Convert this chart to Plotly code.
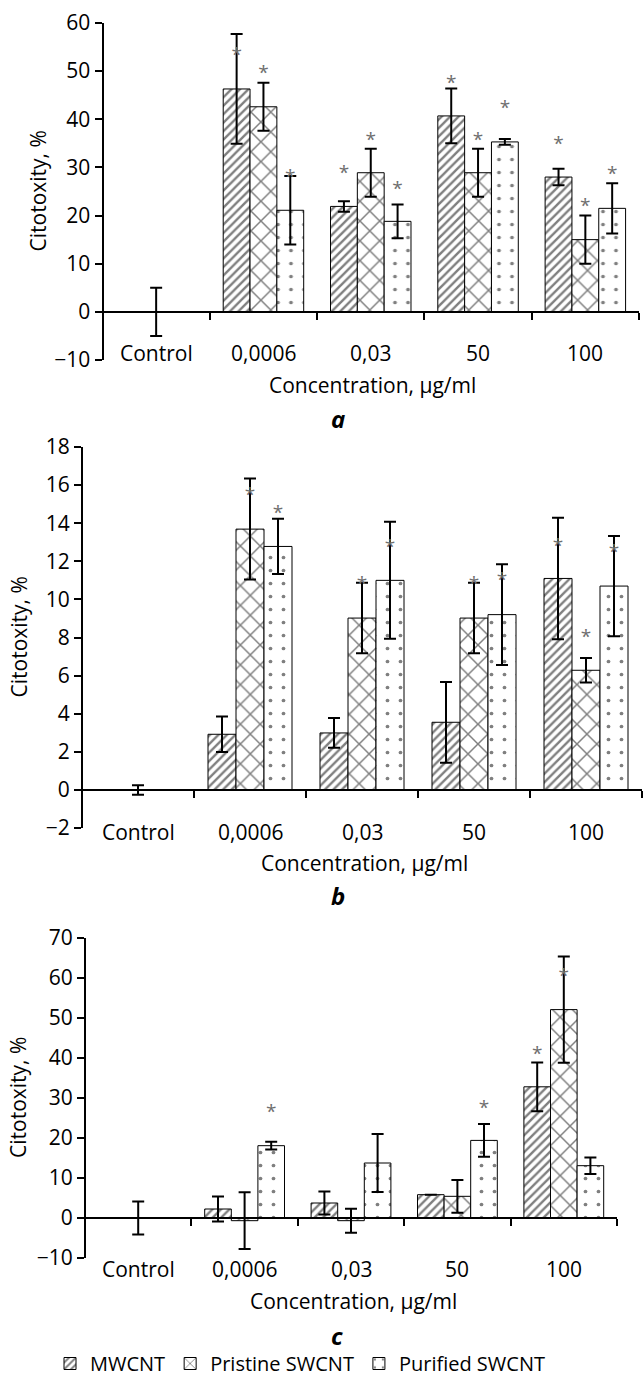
import plotly.graph_objects as go

# ---------------- data ----------------
categories = ["Control", "0,0006", "0,03", "50", "100"]
series_names = ["MWCNT", "Pristine SWCNT", "Purified SWCNT"]

# panel a
a_mw = [None, 46.3, 21.9, 40.7, 28.0]
a_mw_err = [None, 11.4, 1.1, 5.7, 1.7]
a_pr = [0, 42.6, 28.9, 28.9, 15.0]
a_pr_err = [5.0, 5.0, 5.0, 5.0, 5.0]
a_pu = [None, 21.1, 18.8, 35.3, 21.5]
a_pu_err = [None, 7.1, 3.5, 0.6, 5.2]
a_star_mw = [None, 53.0, 28.6, 47.3, 34.6]
a_star_pr = [None, 49.4, 35.5, 35.5, 21.7]
a_star_pu = [None, 27.7, 25.3, 42.0, 28.3]

# panel b
b_mw = [None, 2.92, 2.99, 3.55, 11.1]
b_mw_err = [None, 0.93, 0.78, 2.12, 3.19]
b_pr = [0, 13.69, 9.02, 9.02, 6.28]
b_pr_err = [0.25, 2.65, 1.85, 1.85, 0.64]
b_pu = [None, 12.78, 11.0, 9.2, 10.7]
b_pu_err = [None, 1.45, 3.07, 2.65, 2.63]
b_star_mw = [None, None, None, None, 12.76]
b_star_pr = [None, 15.4, 10.75, 10.75, 7.95]
b_star_pu = [None, 14.46, 12.67, 10.93, 12.41]

# panel c
c_mw = [0, 2.25, 3.75, 5.83, 32.8]
c_mw_err = [0, 3.1, 2.9, 0, 6.1]
c_pr = [0, -0.67, -0.67, 5.42, 52.1]
c_pr_err = [4.1, 7.1, 3.0, 4.1, 13.3]
c_pu = [0, 18.08, 13.75, 19.4, 13.08]
c_pu_err = [0, 0.96, 7.25, 4.1, 2.05]
c_star_mw = [None, None, None, None, 40.8]
c_star_pr = [None, None, None, None, 60.2]
c_star_pu = [None, 26.2, None, 27.25, None]

y_ranges = [[-10, 60], [-2, 18], [-10, 70]]
y_dticks = [10, 2, 10]
panel_letters = ["a", "b", "c"]
x_title = "Concentration, µg/ml"
y_title = "Citotoxity, %"

# ---------------- layout geometry (pixels) ----------------
W, H = 643, 1383
FONT = "Open Sans"
FS = 21
# plot boxes: (x_left, x_right, y_top, y_bottom)
boxes = [(102.5, 639, 23, 360), (82, 642, 447, 828), (85, 617, 938, 1258)]
label_y_px = [353, 832, 1269]
ytitle_x = [37, 18, 18]
xtitle_pos = [(372, 385), (365, 863), (353, 1301)]
letter_pos = [(338, 418), (338, 895), (337, 1335)]

def px_x(p):
    return p / W

def px_y(p):
    return 1 - p / H

patterns = [
    dict(shape="/", size=6, solidity=0.4, fgcolor="black", bgcolor="white"),
    dict(shape="x", size=14, solidity=0.2, fgcolor="black", bgcolor="white"),
    dict(shape=".", size=13, solidity=0.065, fgcolor="black", bgcolor="white"),
]

panels = [
    ([a_mw, a_pr, a_pu], [a_mw_err, a_pr_err, a_pu_err], [a_star_mw, a_star_pr, a_star_pu]),
    ([b_mw, b_pr, b_pu], [b_mw_err, b_pr_err, b_pu_err], [b_star_mw, b_star_pr, b_star_pu]),
    ([c_mw, c_pr, c_pu], [c_mw_err, c_pr_err, c_pu_err], [c_star_mw, c_star_pr, c_star_pu]),
]

fig = go.Figure()
layout_axes = {}
annotations = []

for p, (vals, errs, stars) in enumerate(panels):
    n = p + 1
    xa = "x" if n == 1 else f"x{n}"
    ya = "y" if n == 1 else f"y{n}"
    for k in range(3):
        fig.add_trace(go.Bar(
            x=categories, y=vals[k], name=series_names[k],
            xaxis=xa, yaxis=ya,
            offsetgroup=str(k), legendgroup=series_names[k],
            showlegend=(p == 0),
            marker=dict(color="white", pattern=patterns[k],
                        line=dict(color="black", width=1)),
            error_y=dict(type="data", array=errs[k], symmetric=True,
                         color="black", thickness=2, width=6),
        ))
    for k in range(3):
        fig.add_trace(go.Scatter(
            x=categories, y=stars[k], mode="text", text=["*"] * len(categories),
            textposition="middle center",
            textfont=dict(family=FONT, size=19, color="#6e6e6e"),
            xaxis=xa, yaxis=ya, offsetgroup=str(k), showlegend=False,
            cliponaxis=False, hoverinfo="skip",
        ))

    xl, xr, yt, yb = boxes[p]
    r0, r1 = y_ranges[p]
    d0, d1 = px_y(yb), px_y(yt)
    zero_pos = d0 + (0 - r0) / (r1 - r0) * (d1 - d0)
    xkey = "xaxis" if n == 1 else f"xaxis{n}"
    ykey = "yaxis" if n == 1 else f"yaxis{n}"
    layout_axes[xkey] = dict(
        domain=[px_x(xl), px_x(xr)], anchor="free", position=zero_pos,
        type="category", categoryorder="array", categoryarray=categories,
        range=[-0.5, len(categories) - 0.5],
        showline=True, linecolor="black", linewidth=2,
        ticks="outside", ticklen=7, tickwidth=2, tickcolor="black",
        tickson="boundaries", showticklabels=False, showgrid=False,
        zeroline=False, fixedrange=True,
    )
    layout_axes[ykey] = dict(
        domain=[d0, d1], anchor="free", position=px_x(xl), range=[r0, r1],
        dtick=y_dticks[p], tick0=r0,
        showline=True, linecolor="black", linewidth=2,
        ticks="outside", ticklen=7, tickwidth=2, tickcolor="black",
        showgrid=False, zeroline=False,
        tickfont=dict(family=FONT, size=FS, color="black"),
    )

    # category labels below the plot (x given as category index)
    for i, cat in enumerate(categories):
        annotations.append(dict(
            text=cat, xref=xa, yref="paper", x=i, y=px_y(label_y_px[p]),
            showarrow=False, xanchor="center", yanchor="middle",
            font=dict(family=FONT, size=FS, color="black"),
        ))
    annotations.append(dict(
        text=y_title, xref="paper", yref="paper",
        x=px_x(ytitle_x[p]), y=(d0 + d1) / 2, textangle=-90,
        showarrow=False, xanchor="center", yanchor="middle",
        font=dict(family=FONT, size=FS, color="black"),
    ))
    annotations.append(dict(
        text=x_title, xref="paper", yref="paper",
        x=px_x(xtitle_pos[p][0]), y=px_y(xtitle_pos[p][1]),
        showarrow=False, xanchor="center", yanchor="middle",
        font=dict(family=FONT, size=FS, color="black"),
    ))
    annotations.append(dict(
        text=f"<b><i>{panel_letters[p]}</i></b>", xref="paper", yref="paper",
        x=px_x(letter_pos[p][0]), y=px_y(letter_pos[p][1]),
        showarrow=False, xanchor="center", yanchor="middle",
        font=dict(family=FONT, size=24, color="black"),
    ))

fig.update_layout(
    width=W, height=H,
    margin=dict(l=0, r=0, t=0, b=0, autoexpand=False),
    paper_bgcolor="white", plot_bgcolor="white",
    barmode="group", bargap=0.25, bargroupgap=0,
    scattermode="group", scattergap=0.25,
    font=dict(family=FONT, size=FS, color="black"),
    annotations=annotations,
    legend=dict(orientation="h", x=px_x(50), xanchor="left",
                y=0, yanchor="bottom",
                font=dict(family=FONT, size=20, color="black"),
                traceorder="normal", itemwidth=30),
    **layout_axes,
)

fig.write_html("out.html", config={"displayModeBar": False},
               post_script="document.body.style.margin='0';")
